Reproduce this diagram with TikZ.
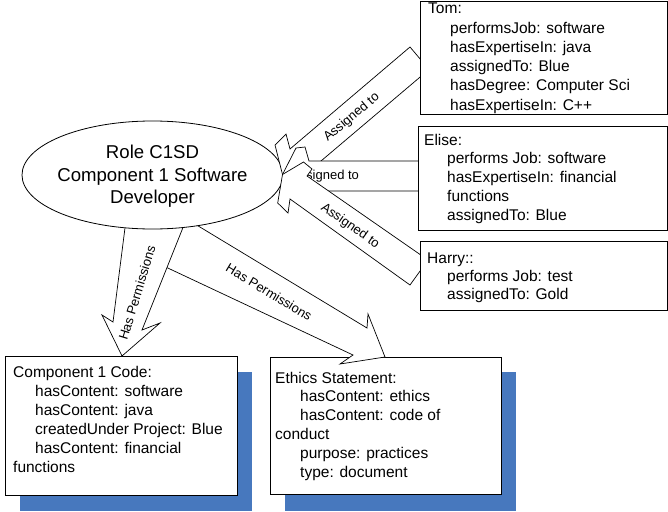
\documentclass[tikz,border=0pt]{standalone}
\usepackage{fontspec}
\setmainfont{Liberation Sans}
\usetikzlibrary{calc,shapes.geometric}
\definecolor{shadowblue}{RGB}{71,120,190}
\begin{document}
\begin{tikzpicture}[x=1pt,y=-1pt,
  box/.style={draw=black, fill=white, line width=0.8pt, inner sep=0pt, outer sep=0pt, anchor=north west},
  boxtext/.style={font=\fontsize{15.5}{19}\selectfont, inner sep=0pt, anchor=base west},
  fatarrow/.style={draw=black, fill=white, line width=0.7pt, line join=miter},
  arrowlabel/.style={font=\fontsize{13}{15}\selectfont, inner sep=0pt},
  roletext/.style={font=\fontsize{18.6}{22}\selectfont, inner sep=0pt, anchor=base},
  roleshape/.style={draw=black, fill=white, line width=0.8pt, ellipse, inner sep=0pt}
]
\useasboundingbox (0,0) rectangle (668,511);

% bottom boxes with shadows
\fill[shadowblue] (20,372) rectangle (252,511);
\fill[shadowblue] (285,372) rectangle (516,511);
\node[box, minimum width=232pt, minimum height=139pt] (code) at (5,356) {};
\node[box, minimum width=231pt, minimum height=137pt] (ethics) at (270,357) {};
\foreach \t [count=\i from 0] in {Component 1 Code:,
  \hspace{22pt}hasContent: software,
  \hspace{22pt}hasContent: java,
  \hspace{22pt}createdUnder Project: Blue,
  \hspace{22pt}hasContent: financial,
  functions}
  \node[boxtext] (code\i) at (13,{377+19*\i}) {\t};
\foreach \t [count=\i from 0] in {Ethics Statement:,
  \hspace{25pt}hasContent: ethics,
  \hspace{25pt}hasContent: code of,
  conduct,
  \hspace{25pt}purpose: practices,
  \hspace{25pt}type: document}
  \node[boxtext] (eth\i) at (275,{383+18.8*\i}) {\t};

% arrows from the role to the bottom boxes
\coordinate (bTail1) at (185,218);
\coordinate (bTail2) at (155,262);
\draw[fatarrow] (bTail1) -- (367,328) -- (368,314) -- (385,357) -- (340,364) -- (353,355) -- (bTail2) -- cycle;
\node[arrowlabel, rotate=-31] (lblB) at (269,292) {Has Permissions};
\coordinate (aTail1) at (126,220);
\coordinate (aTail2) at (186,220);
\draw[fatarrow] (aTail1) -- (113,322) -- (102,315) -- (122,356) -- (160,323) -- (142,330) -- (aTail2) -- cycle;
\node[arrowlabel, rotate=73] (lblA) at (137,293) {Has Permissions};

% role ellipse
\node[roleshape, minimum width=261pt, minimum height=108pt] (role) at (152.5,175) {};
\node[roletext] (role1) at (152.5,158.3) {Role C1SD};
\node[roletext] (role2) at (152.5,181) {Component 1 Software};
\node[roletext] (role3) at (152.5,203.5) {Developer};

% arrows from the persons to the role
\coordinate (tip) at (282.5,174.5);
\draw[fatarrow] (410,47) -- (290,149) -- (286,134) -- (275,145) -- (tip) -- (309,187) -- (322,177.5) -- (308,172) -- (429,69.5) -- cycle;
\node[arrowlabel, rotate=40] (lblC) at (351.7,117.5) {Assigned to};
\draw[fatarrow] (425,161) -- (309,161) -- (305,147) -- (296,148) -- (tip) -- (300,192) -- (309,191) -- (425,191) -- cycle;
\node[arrowlabel] (lblD) at (325,176.6) {Assigned to};
\draw[fatarrow] (428,260) -- (307,176) -- (312,169) -- (303.5,162) -- (tip) -- (277.7,203) -- (288,213) -- (290,199) -- (410,285) -- cycle;
\node[arrowlabel, rotate=-35] (lblE) at (350,226) {Assigned to};

% person boxes
\node[box, minimum width=247pt, minimum height=113pt] (tom) at (420,1) {};
\node[box, minimum width=249pt, minimum height=104pt] (elise) at (418,126) {};
\node[box, minimum width=247pt, minimum height=69pt] (harry) at (420,241) {};
\foreach \t [count=\i from 0] in {Tom:,
  \hspace{22pt}performsJob: software,
  \hspace{22pt}hasExpertiseIn: java,
  \hspace{22pt}assignedTo: Blue,
  \hspace{22pt}hasDegree: Computer Sci,
  \hspace{22pt}hasExpertiseIn: C++}
  \node[boxtext] (tom\i) at (428,{14+19.2*\i}) {\t};
\foreach \t [count=\i from 0] in {Elise:,
  \hspace{23pt}performs Job: software,
  \hspace{23pt}hasExpertiseIn: financial,
  \hspace{23pt}functions,
  \hspace{23pt}assignedTo: Blue}
  \node[boxtext] (eli\i) at (424,{145+18.8*\i}) {\t};
\foreach \t [count=\i from 0] in {Harry::,
  \hspace{20pt}performs Job: test,
  \hspace{20pt}assignedTo: Gold}
  \node[boxtext] (har\i) at (427,{263+18*\i}) {\t};
\end{tikzpicture}
\end{document}
